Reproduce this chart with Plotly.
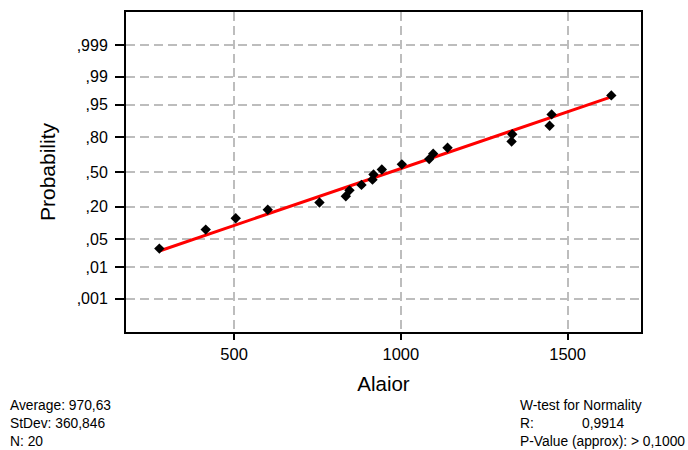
import plotly.graph_objects as go
from statistics import NormalDist

# Data values (sorted)
alaior = [276, 415, 505, 601, 756, 835, 846, 882, 915, 918,
          943, 1003, 1085, 1097, 1140, 1332, 1334, 1446, 1452, 1631]
# Cumulative probabilities of the plotted points
probs = [0.0309, 0.0802, 0.1296, 0.1790, 0.2284, 0.2778, 0.3272, 0.3765, 0.4259, 0.4753,
         0.5247, 0.5741, 0.6235, 0.6728, 0.7222, 0.7716, 0.8210, 0.8704, 0.9198, 0.9691]

avg = 970.63
stdev = 360.846

tick_probs = [0.999, 0.99, 0.95, 0.80, 0.50, 0.20, 0.05, 0.01, 0.001]
tick_labels = [",999", ",99", ",95", ",80", ",50", ",20", ",05", ",01", ",001"]
x_ticks = [500, 1000, 1500]

nd = NormalDist()
z_pts = [nd.inv_cdf(p) for p in probs]
z_ticks = [nd.inv_cdf(p) for p in tick_probs]

fit_x = [min(alaior), max(alaior)]
fit_z = [(v - avg) / stdev for v in fit_x]

fig = go.Figure()
fig.add_trace(go.Scatter(x=fit_x, y=fit_z, mode="lines",
                         line=dict(color="#ff0000", width=3), showlegend=False,
                         hoverinfo="skip"))
fig.add_trace(go.Scatter(x=alaior, y=z_pts, mode="markers",
                         marker=dict(symbol="diamond", size=8, color="black"),
                         showlegend=False))

font_family = "Liberation Sans, Arial, sans-serif"

fig.update_layout(
    width=688, height=450,
    margin=dict(l=126, r=47, t=10, b=118),
    paper_bgcolor="white", plot_bgcolor="white",
    font=dict(family=font_family, color="black"),
    xaxis=dict(range=[176, 1720], tickvals=x_ticks, ticktext=[str(v) for v in x_ticks],
               showgrid=True, gridcolor="#bdbdbd", gridwidth=2, griddash="9px,5px",
               showline=True, linecolor="black", linewidth=2, mirror=True,
               ticks="outside", ticklen=6, tickwidth=1.5, tickcolor="black",
               tickfont=dict(size=16.5), zeroline=False,
               title=dict(text="Alaior", font=dict(size=20.5), standoff=15)),
    yaxis=dict(range=[-3.9, 3.9], tickvals=z_ticks, ticktext=tick_labels,
               showgrid=True, gridcolor="#bdbdbd", gridwidth=2, griddash="9px,5px",
               showline=True, linecolor="black", linewidth=2, mirror=True,
               ticks="outside", ticklen=9, tickwidth=1.5, tickcolor="black",
               ticklabelstandoff=4,
               tickfont=dict(size=16), zeroline=False,
               title=dict(text="Probability", font=dict(size=21), standoff=15)),
)

pw, ph = 515.0, 321.7
def px(x):
    return (x - 126) / pw
def py(y):
    return (331.7 - y) / ph

notes = [
    ("Average: 970,63", 8, 406),
    ("StDev: 360,846", 8, 424),
    ("N: 20", 8, 442),
    ("W-test for Normality", 518, 406),
    ("R:", 518, 424),
    ("0,9914", 580, 424),
    ("P-Value (approx): > 0,1000", 518, 442),
]
for text, x, y in notes:
    fig.add_annotation(text=text, xref="paper", yref="paper", x=px(x), y=py(y),
                       xanchor="left", yanchor="middle", showarrow=False,
                       font=dict(size=13.8, family=font_family, color="black"))

fig.write_html("out.html", config={"displayModeBar": False},
               post_script="document.body.style.margin='0';document.body.style.overflow='hidden';")
